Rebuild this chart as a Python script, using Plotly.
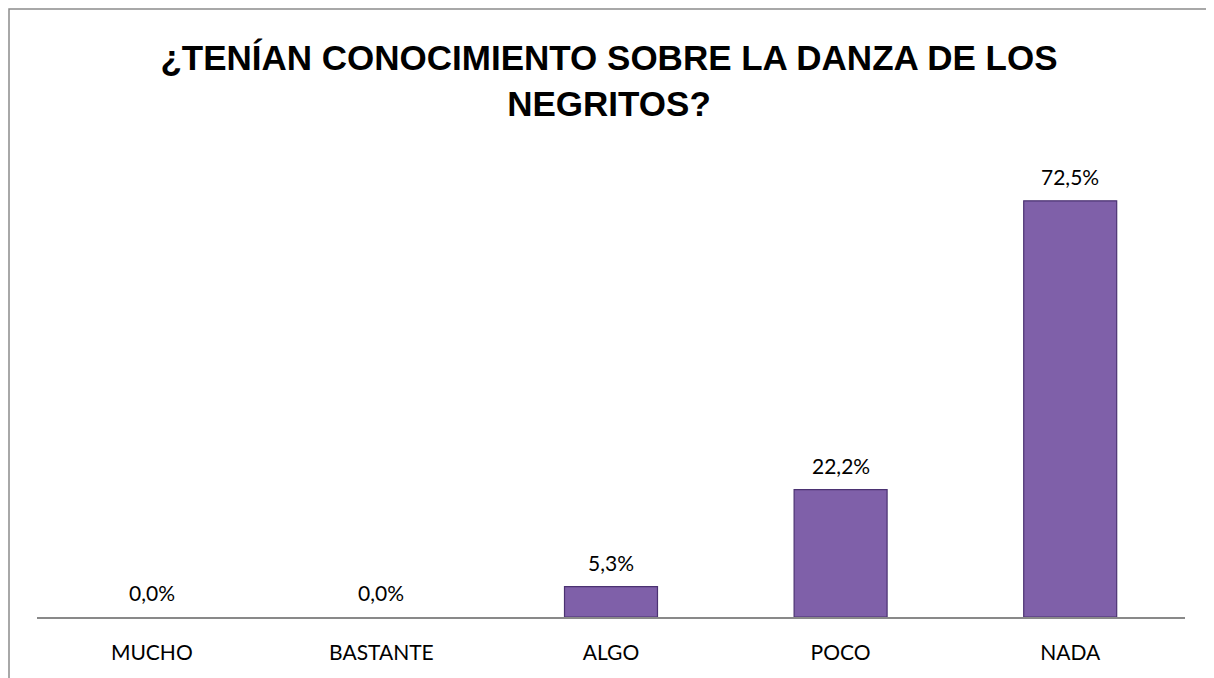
import plotly.graph_objects as go

categories = ["MUCHO", "BASTANTE", "ALGO", "POCO", "NADA"]
values = [0.0, 0.0, 5.3, 22.2, 72.5]
labels = [f"{v:.1f}%".replace(".", ",") for v in values]
title_text = "¿TENÍAN CONOCIMIENTO SOBRE LA DANZA DE LOS<br>NEGRITOS?"

OFF = 8  # page body margin
W, H = 1214 - OFF, 678 - OFF
ml, mr, mt, mb = 37 - OFF, 29, 150 - OFF, 61
plot_w = W - ml - mr
plot_h = H - mt - mb
px_per_unit = 5.74
ymax = plot_h / px_per_unit

fig = go.Figure()
fig.add_trace(go.Bar(
    x=categories, y=values, width=0.405,
    marker=dict(color="#7F60A9",
                line=dict(color="#4B3272", width=[0 if v == 0 else 1.2 for v in values])),
    hoverinfo="skip",
))

for c, v, t in zip(categories, values, labels):
    fig.add_annotation(x=c, y=v, text=t, showarrow=False, yanchor="bottom",
                       yshift=10, font=dict(family="Lato, Carlito, sans-serif", size=21, color="#000000"))

# chart border
fig.add_shape(type="rect", xref="paper", yref="paper",
              x0=(1 - ml) / plot_w, x1=(1211 - OFF - ml) / plot_w,
              y0=-0.5, y1=(mt - 1) / plot_h + 1,
              line=dict(color="#8C8C8C", width=1.5), layer="above")

fig.update_layout(
    width=W, height=H,
    margin=dict(l=ml, r=mr, t=mt, b=mb),
    paper_bgcolor="white", plot_bgcolor="white",
    bargap=0.6,
    showlegend=False,
    title=dict(text=title_text, x=(609 - OFF) / W, xanchor="center", y=1 - 62 / H, yanchor="top",
               font=dict(family="Liberation Sans, Arial, sans-serif", size=35, color="#000000", weight="bold")),
    xaxis=dict(showline=True, linecolor="#898989", linewidth=2, showgrid=False, ticks="",
               tickfont=dict(family="Lato, Carlito, sans-serif", size=21, color="#000000"),
               ticklabelstandoff=16, fixedrange=True),
    yaxis=dict(range=[0, ymax], visible=False, showgrid=False, fixedrange=True),
)

fig.write_html("out.html")
